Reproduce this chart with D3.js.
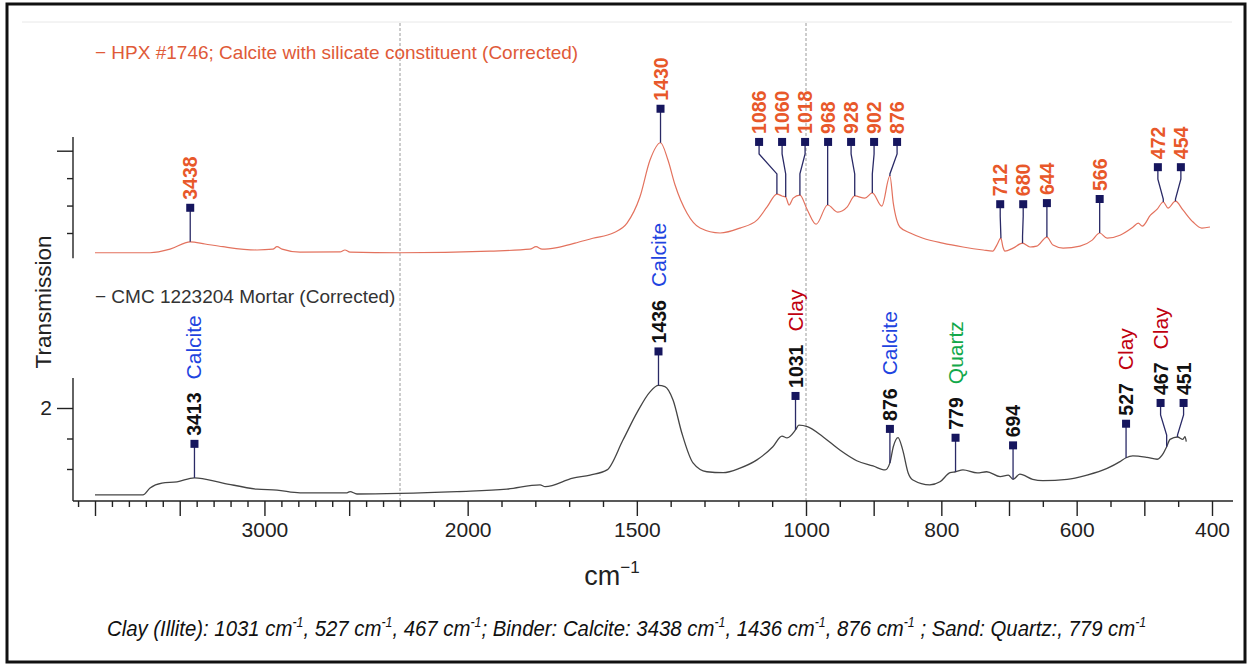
<!DOCTYPE html>
<html>
<head>
<meta charset="utf-8">
<script src="https://cdn.jsdelivr.net/npm/d3@7"></script>
<style>
  html, body { margin: 0; padding: 0; background: #fff; }
  svg { display: block; }
  text { font-family: "Liberation Sans", Arial, Helvetica, sans-serif; }
</style>
</head>
<body>
<svg id="chart" width="1249" height="668"></svg>
<script>
// ---- FTIR spectra (wavenumber in cm-1, transmission in arbitrary units) ----
const hpxWavenumber = [4000, 3675, 3557, 3438, 3351, 3245, 3044, 2950, 2926, 2896,
  2790, 2554, 2525, 2495, 2200, 1934, 1816, 1798, 1780, 1736,
  1683, 1630, 1570, 1529, 1491, 1461, 1430, 1408, 1387, 1352,
  1313, 1254, 1195, 1145, 1115, 1086, 1071, 1060, 1050, 1038,
  1018, 998, 985, 968, 953, 939, 928, 913, 902, 888,
  876, 871, 861, 846, 827, 798, 768, 738, 724, 718,
  712, 709, 706, 694, 680, 669, 659, 644, 635, 620,
  595, 577, 566, 555, 536, 517, 509, 503, 491, 481,
  472, 465, 454, 443, 428, 415, 403];
const hpxTransmission = [1.628, 1.628, 1.641, 1.668, 1.660, 1.650, 1.638, 1.641, 1.650, 1.641,
  1.630, 1.631, 1.638, 1.630, 1.628, 1.634, 1.641, 1.650, 1.641, 1.647,
  1.663, 1.681, 1.700, 1.736, 1.831, 1.966, 2.029, 1.966, 1.875, 1.773,
  1.718, 1.700, 1.718, 1.747, 1.795, 1.842, 1.835, 1.831, 1.802, 1.827,
  1.838, 1.784, 1.732, 1.802, 1.776, 1.795, 1.835, 1.827, 1.846, 1.798,
  1.908, 1.809, 1.721, 1.700, 1.681, 1.663, 1.649, 1.638, 1.634, 1.656,
  1.681, 1.649, 1.634, 1.645, 1.663, 1.649, 1.652, 1.685, 1.656, 1.645,
  1.652, 1.674, 1.700, 1.681, 1.692, 1.721, 1.736, 1.725, 1.765, 1.787,
  1.813, 1.791, 1.816, 1.784, 1.740, 1.718, 1.722];

const cmcWavenumber = [4000, 3717, 3675, 3605, 3516, 3413, 3245, 3044, 2926, 2790,
  2513, 2495, 2454, 2200, 2032, 1884, 1786, 1771, 1689, 1638,
  1588, 1541, 1500, 1461, 1436, 1417, 1393, 1367, 1334, 1293,
  1245, 1195, 1145, 1098, 1071, 1056, 1031, 1021, 998, 975,
  950, 925, 901, 883, 876, 871, 864, 857, 849, 842,
  817, 802, 787, 779, 768, 747, 733, 713, 701, 694,
  684, 665, 650, 614, 585, 555, 536, 527, 517, 496,
  481, 472, 467, 462, 451, 443, 440, 438];
const cmcTransmission = [1.715, 1.715, 1.738, 1.754, 1.758, 1.771, 1.754, 1.734, 1.731, 1.722,
  1.722, 1.726, 1.718, 1.720, 1.726, 1.734, 1.748, 1.742, 1.770, 1.780,
  1.797, 1.895, 1.984, 2.053, 2.074, 2.070, 2.026, 1.918, 1.820, 1.791,
  1.788, 1.803, 1.830, 1.873, 1.908, 1.902, 1.928, 1.944, 1.939, 1.906,
  1.862, 1.827, 1.810, 1.797, 1.820, 1.873, 1.903, 1.862, 1.787, 1.764,
  1.748, 1.758, 1.788, 1.791, 1.797, 1.787, 1.791, 1.775, 1.780, 1.766,
  1.783, 1.766, 1.762, 1.766, 1.780, 1.802, 1.824, 1.837, 1.843, 1.838,
  1.832, 1.851, 1.873, 1.897, 1.905, 1.897, 1.906, 1.890];

// picked peaks
const hpxPeaks = [3438, 1430, 1086, 1060, 1018, 968, 928, 902, 876, 712, 680, 644, 566, 472, 454];
const cmcPeaks = [3413, 1436, 1031, 876, 779, 694, 527, 467, 451];
const cmcAssignments = ["Calcite", "Calcite", "Clay", "Calcite", "Quartz", "", "Clay", "Clay", ""];

// axis ticks
const xMajorTicks = [4000, 3500, 3000, 2500, 2000, 1500, 1000, 900, 800, 700, 600, 500, 400];
const xLabelledTicks = [3000, 2000, 1500, 1000, 800, 600, 400];
const hpxAxisTicks = [2.0, 1.9, 1.8, 1.7];
const cmcAxisTicks = [2.0, 1.9, 1.8];

const seriesNames = ["HPX #1746; Calcite with silicate constituent (Corrected)", "CMC 1223204 Mortar (Corrected)"];
const captionParts = [
  ["Clay (Illite): 1031 cm", "-1"], [", 527 cm", "-1"], [", 467 cm", "-1"],
  ["; Binder: Calcite: 3438 cm", "-1"], [", 1436 cm", "-1"], [", 876 cm", "-1"],
  [" ; Sand: Quartz:, 779 cm", "-1"]
];

// ---- style ----
const hpxColor = "#e3725e";
const hpxLabelColor = "#e8582a";
const cmcColor = "#454545";
const markerColor = "#16165e";
const assignmentColors = { Calcite: "#1f44e0", Clay: "#c0000f", Quartz: "#12a84a" };

const svg = d3.select("#chart");

// segmented wavenumber scale: compressed above 2200, expanded below 1000
const x = d3.scaleLinear().domain([4000, 2200, 1000, 400]).range([95, 400, 806, 1212]);
const yHpx = d3.scaleLinear().domain([1.7, 2.0]).range([233, 150.7]);
const yCmc = d3.scaleLinear().domain([1.8, 2.0]).range([469, 408]);

const axisY = 501, frameLeft = 73, frameRight = 1233;

// outer border
svg.append("rect").attr("x", 7).attr("y", 4).attr("width", 1238).attr("height", 658)
  .attr("fill", "none").attr("stroke", "#111").attr("stroke-width", 3);
svg.append("line").attr("x1", 22).attr("x2", 1232).attr("y1", 22).attr("y2", 22)
  .attr("stroke", "#e8e8e8").attr("stroke-width", 1);

// dashed region dividers
[2200, 1000].forEach(w => {
  svg.append("line").attr("x1", x(w)).attr("x2", x(w)).attr("y1", 23).attr("y2", axisY)
    .attr("stroke", "#9a9a9a").attr("stroke-width", 1).attr("stroke-dasharray", "3,2");
});

// x axis
const minorTicks = d3.range(4100, 2000, -100).concat(d3.range(1900, 1000, -100), d3.range(950, 400, -100))
  .filter(t => !xMajorTicks.includes(t));
const gx = svg.append("g").attr("transform", `translate(0,${axisY})`);
gx.call(d3.axisBottom(x).tickValues(minorTicks).tickSize(6).tickFormat(""));
gx.call(g => g.select(".domain").remove());
const gx2 = svg.append("g").attr("transform", `translate(0,${axisY})`);
gx2.call(d3.axisBottom(x).tickValues(xMajorTicks).tickSize(15).tickPadding(6)
  .tickFormat(d => xLabelledTicks.includes(d) ? d : ""));
gx2.select(".domain").remove();
gx2.selectAll("text").attr("font-size", 21).attr("fill", "#222")
  .attr("font-family", "'Liberation Sans', Arial, sans-serif");
svg.selectAll(".tick line").attr("stroke", "#222").attr("stroke-width", 1.4);
svg.append("line").attr("x1", frameLeft).attr("x2", frameRight).attr("y1", axisY).attr("y2", axisY)
  .attr("stroke", "#222").attr("stroke-width", 1.4);

// y axes (one segment per spectrum)
function yAxis(scale, ticks, lo, hi, labelled) {
  const g = svg.append("g").attr("transform", `translate(${frameLeft},0)`);
  g.append("line").attr("x1", 0).attr("x2", 0).attr("y1", scale(hi)).attr("y2", scale(lo))
    .attr("stroke", "#222").attr("stroke-width", 1.4);
  const major = g.append("g").call(d3.axisLeft(scale).tickValues([ticks[0]]).tickSize(16).tickPadding(5)
    .tickFormat(labelled ? d3.format("d") : () => ""));
  const minor = g.append("g").call(d3.axisLeft(scale).tickValues(ticks.slice(1)).tickSize(6).tickFormat(""));
  [major, minor].forEach(a => {
    a.select(".domain").remove();
    a.selectAll("line").attr("stroke", "#222").attr("stroke-width", 1.4);
    a.selectAll("text").attr("font-size", 21).attr("fill", "#222")
      .attr("font-family", "'Liberation Sans', Arial, sans-serif");
  });
}
yAxis(yHpx, hpxAxisTicks, 1.608, 2.05, false);
yAxis(yCmc, cmcAxisTicks, 1.695, 2.098, true);

// axis titles
svg.append("text").attr("transform", "translate(51,302) rotate(-90)")
  .attr("text-anchor", "middle").attr("font-size", 22.5).attr("fill", "#222").text("Transmission");
const xt = svg.append("text").attr("x", 612).attr("y", 585).attr("text-anchor", "middle")
  .attr("font-size", 27).attr("fill", "#222");
xt.append("tspan").text("cm");
xt.append("tspan").attr("font-size", 17).attr("dy", -12).text("\u22121");

// spectra
function drawSpectrum(wn, tr, yScale, color, width) {
  const idx = d3.range(wn.length);
  const line = d3.line().x(i => x(wn[i])).y(i => yScale(tr[i])).curve(d3.curveMonotoneX);
  svg.append("path").attr("d", line(idx)).attr("fill", "none")
    .attr("stroke", color).attr("stroke-width", width).attr("stroke-linejoin", "round");
}
drawSpectrum(hpxWavenumber, hpxTransmission, yHpx, hpxColor, 1.2);
drawSpectrum(cmcWavenumber, cmcTransmission, yCmc, cmcColor, 1.3);

// legend entries
svg.append("text").attr("x", 95).attr("y", 59).attr("font-size", 19).attr("fill", "#e05a38")
  .text("\u2212 " + seriesNames[0]);
svg.append("text").attr("x", 95).attr("y", 303).attr("font-size", 19).attr("fill", "#333")
  .text("\u2212 " + seriesNames[1]);

// peak annotation: markers spread apart when they would collide
function valueAt(wn, tr, w) {
  for (let i = 0; i < wn.length - 1; i++) {
    if (wn[i] >= w && w >= wn[i + 1]) {
      const t = (wn[i] - w) / (wn[i] - wn[i + 1]);
      return tr[i] + t * (tr[i + 1] - tr[i]);
    }
  }
  return tr[tr.length - 1];
}
function annotate(peaks, wn, tr, yScale, numColor, names) {
  const gap = 23;
  const px = peaks.map(p => x(p));
  const py = peaks.map(p => yScale(valueAt(wn, tr, p)));
  const place = g => {
    const m = d3.mean(g.idx, i => px[i]);
    const n = g.idx.length;
    g.pos = g.idx.map((_, k) => m + (k - (n - 1) / 2) * gap);
  };
  const groups = px.map((_, i) => ({ idx: [i] }));
  groups.forEach(place);
  let merged = true;
  while (merged) {
    merged = false;
    for (let k = 0; k < groups.length - 1; k++) {
      const a = groups[k], b = groups[k + 1];
      if (b.pos[0] - a.pos[a.pos.length - 1] < gap - 0.01) {
        a.idx = a.idx.concat(b.idx); place(a); groups.splice(k + 1, 1); merged = true; break;
      }
    }
  }
  const g = svg.append("g");
  groups.forEach(grp => {
    const my = d3.min(grp.idx, i => py[i]) - 34;
    grp.idx.forEach((i, k) => {
      const lx = grp.pos[k] - 1.5 * (grp.idx.length > 3 ? 1 : 0);
      const pts = Math.abs(lx - px[i]) < 0.5
        ? [[px[i], my], [px[i], py[i]]]
        : [[lx, my], [lx, my + 12], [px[i], Math.min(my + 32, py[i])], [px[i], py[i]]];
      g.append("path").attr("d", d3.line()(pts)).attr("fill", "none")
        .attr("stroke", "#2a2a66").attr("stroke-width", 1.3);
      g.append("rect").attr("x", lx - 4).attr("y", my - 4).attr("width", 8).attr("height", 8)
        .attr("fill", markerColor);
      const t = g.append("text").attr("transform", `translate(${lx},${my - 8}) rotate(-90)`)
        .attr("dy", "0.36em").attr("font-size", 19.5);
      t.append("tspan").attr("font-weight", "bold").attr("fill", numColor).text(peaks[i]);
      if (names && names[i]) {
        t.append("tspan").attr("dx", 13).attr("font-size", 21)
          .attr("fill", assignmentColors[names[i]]).text(names[i]);
      }
    });
  });
}
annotate(hpxPeaks, hpxWavenumber, hpxTransmission, yHpx, hpxLabelColor, null);
annotate(cmcPeaks, cmcWavenumber, cmcTransmission, yCmc, "#111", cmcAssignments);

// caption: condensed italic line, squeezed horizontally to its span
const capLeft = 107, capWidth = 1040;
const cap = svg.append("text").attr("x", 0).attr("y", 0).attr("font-size", 23)
  .attr("font-style", "italic").attr("fill", "#111");
captionParts.forEach(([main, sup], k) => {
  cap.append("tspan").attr("dy", k === 0 ? 0 : 9).text(main);
  cap.append("tspan").attr("font-size", 14).attr("dy", -9).text(sup);
});
const capW = cap.node().getBBox().width;
cap.attr("transform", `translate(${capLeft},636) scale(${capWidth / capW},1)`);
</script>
</body>
</html>
